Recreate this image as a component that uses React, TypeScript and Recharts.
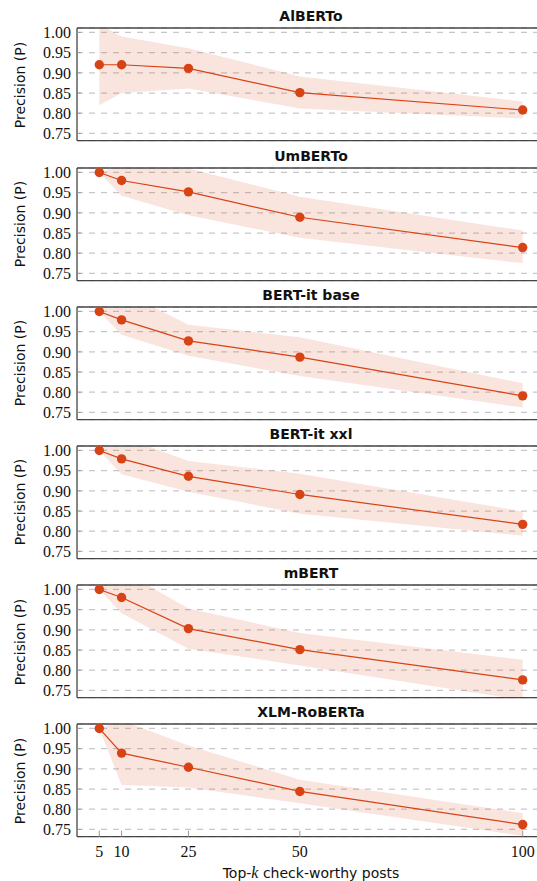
import React from "react";
import {
  ComposedChart,
  Area,
  Line,
  XAxis,
  YAxis,
  CartesianGrid,
} from "recharts";

const topK = [5, 10, 25, 50, 100];
const yTicks = [0.75, 0.8, 0.85, 0.9, 0.95, 1.0];

const modelNames = ["AlBERTo", "UmBERTo", "BERT-it base", "BERT-it xxl", "mBERT", "XLM-RoBERTa"];

// mean precision per top-k
const albertoP = [0.92, 0.92, 0.911, 0.851, 0.808];
const umbertoP = [1.0, 0.98, 0.952, 0.889, 0.814];
const bertBaseP = [1.0, 0.979, 0.927, 0.887, 0.791];
const bertXxlP = [1.0, 0.979, 0.936, 0.891, 0.817];
const mbertP = [1.0, 0.98, 0.903, 0.851, 0.776];
const xlmrP = [1.0, 0.939, 0.904, 0.844, 0.762];

// shaded band, lower / upper
const albertoLo = [0.82, 0.85, 0.861, 0.812, 0.787];
const albertoHi = [1.02, 0.99, 0.961, 0.891, 0.829];
const umbertoLo = [1.0, 0.942, 0.894, 0.838, 0.775];
const umbertoHi = [1.0, 1.018, 1.01, 0.94, 0.856];
const bertBaseLo = [1.0, 0.942, 0.89, 0.84, 0.762];
const bertBaseHi = [1.0, 1.05, 0.967, 0.936, 0.822];
const bertXxlLo = [1.0, 0.941, 0.898, 0.843, 0.789];
const bertXxlHi = [1.0, 1.034, 0.974, 0.942, 0.849];
const mbertLo = [1.0, 0.941, 0.853, 0.812, 0.726];
const mbertHi = [1.0, 1.047, 0.953, 0.892, 0.826];
const xlmrLo = [1.0, 0.86, 0.854, 0.815, 0.734];
const xlmrHi = [1.0, 1.02, 0.958, 0.873, 0.79];

const series = [
  [albertoP, albertoLo, albertoHi],
  [umbertoP, umbertoLo, umbertoHi],
  [bertBaseP, bertBaseLo, bertBaseHi],
  [bertXxlP, bertXxlLo, bertXxlHi],
  [mbertP, mbertLo, mbertHi],
  [xlmrP, xlmrLo, xlmrHi],
];

const ORANGE = "#d84315";
const PLOT_LEFT = 77;
const PLOT_W = 468;
const PLOT_H = 112.7;
const PLOT_TOP0 = 28.4;
const PITCH = 139.2;
const SANS = "'DejaVu Sans', sans-serif";
const SERIF = "'Liberation Serif', serif";

function Panel({ idx }: { idx: number }) {
  const [p, lo, hi] = series[idx];
  const rows = topK.map((k, i) => ({ k, p: p[i], band: [lo[i], hi[i]] }));
  const last = idx === modelNames.length - 1;
  const plotTop = PLOT_TOP0 + idx * PITCH;
  const bottomH = last ? 40 : 1;
  const chartH = 3 + PLOT_H + bottomH + 2;

  return (
    <>
      <div
        style={{
          position: "absolute",
          left: PLOT_LEFT,
          width: PLOT_W,
          top: plotTop - 12,
          transform: "translateY(-50%)",
          textAlign: "center",
          fontFamily: SANS,
          fontWeight: "bold",
          fontSize: 14,
          lineHeight: 1,
          color: "#111",
        }}
      >
        {modelNames[idx]}
      </div>
      <div
        style={{
          position: "absolute",
          left: 20,
          top: plotTop + PLOT_H / 2,
          transform: "translate(-50%, -50%) rotate(-90deg)",
          whiteSpace: "nowrap",
          fontFamily: SANS,
          fontSize: 14,
          lineHeight: 1,
          color: "#111",
        }}
      >
        Precision (P)
      </div>
      <div style={{ position: "absolute", left: 0, top: plotTop - 3 }}>
        <ComposedChart
          width={PLOT_LEFT + PLOT_W + 5}
          height={chartH}
          data={rows}
          margin={{ top: 2, right: 5, left: 0, bottom: 2 }}
        >
          <CartesianGrid
            vertical={false}
            stroke="#c8c8c8"
            strokeDasharray="6 6"
            strokeWidth={1.2}
          />
          <XAxis
            xAxisId="top"
            orientation="top"
            type="number"
            dataKey="k"
            domain={[0, 105]}
            ticks={topK}
            interval={0}
            height={1}
            tick={false}
            tickLine={last ? { stroke: "#999" } : false}
            tickSize={-6}
            axisLine={{ stroke: "#444", strokeWidth: 1.3 }}
          />
          <XAxis
            type="number"
            dataKey="k"
            domain={[0, 105]}
            ticks={topK}
            interval={0}
            height={bottomH}
            tick={last ? { fontFamily: SERIF, fontSize: 16, fill: "#111" } : false}
            tickLine={last ? { stroke: "#999" } : false}
            tickSize={-6}
            tickMargin={15}
            axisLine={{ stroke: "#444", strokeWidth: 1.3 }}
          />
          <YAxis
            type="number"
            domain={[0.732, 1.011]}
            allowDataOverflow
            ticks={yTicks}
            interval={0}
            width={PLOT_LEFT}
            tickFormatter={(v: number) => v.toFixed(2)}
            tick={{ fontFamily: SERIF, fontSize: 16, fill: "#111" }}
            tickLine={{ stroke: "#999" }}
            tickSize={-4}
            tickMargin={10}
            axisLine={{ stroke: "#444", strokeWidth: 1.3 }}
          />
          <Area
            dataKey="band"
            stroke="none"
            fill={ORANGE}
            fillOpacity={0.14}
            type="linear"
            isAnimationActive={false}
          />
          <Line
            dataKey="p"
            type="linear"
            stroke={ORANGE}
            strokeWidth={1.2}
            dot={{ r: 4.7, fill: ORANGE, stroke: "none", clipDot: false }}
            activeDot={false}
            isAnimationActive={false}
          />
        </ComposedChart>
      </div>
    </>
  );
}

export default function App() {
  return (
    <div
      style={{
        position: "fixed",
        left: 0,
        top: 0,
        width: 537,
        height: 881,
        overflow: "hidden",
        background: "#fff",
      }}
    >
      {modelNames.map((_, i) => (
        <Panel key={i} idx={i} />
      ))}
      <div
        style={{
          position: "absolute",
          left: PLOT_LEFT,
          width: PLOT_W,
          top: 873,
          transform: "translateY(-50%)",
          textAlign: "center",
          fontFamily: SANS,
          fontSize: 14,
          lineHeight: 1,
          color: "#111",
        }}
      >
        Top-<span style={{ fontFamily: SERIF, fontStyle: "italic", fontSize: 16 }}>k</span> check-worthy posts
      </div>
    </div>
  );
}
